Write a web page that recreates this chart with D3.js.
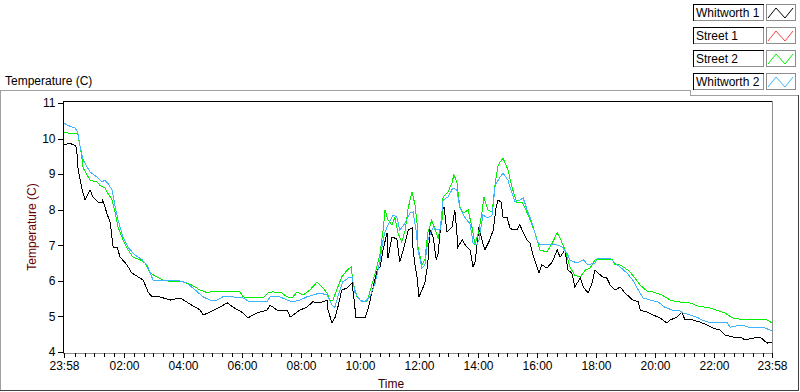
<!DOCTYPE html>
<html>
<head>
<meta charset="utf-8">
<script src="https://cdn.jsdelivr.net/npm/d3@7"></script>
<style>
  body { margin: 0; background: #fff; }
  svg { display: block; font-family: "Liberation Sans", Arial, sans-serif; }
  .axis text { font-size: 12px; fill: #000; }
  .axis line { stroke: #000; shape-rendering: crispEdges; }
  .axis .domain { display: none; }
  .frame { fill: none; shape-rendering: crispEdges; }
  .plot-line { fill: none; stroke-width: 1; shape-rendering: crispEdges; }
</style>
</head>
<body>
<svg id="chart" width="800" height="392"></svg>
<script>
// Series names + colours (legend order)
const seriesNames = ['Whitworth 1', 'Street 1', 'Street 2', 'Whitworth 2'];
const seriesColors = ['#000000', '#ff3c3c', '#00f000', '#3cb4ff'];

// Axis ticks
const yTicks = [4, 5, 6, 7, 8, 9, 10, 11];
const xLabels = ['23:58', '02:00', '04:00', '06:00', '08:00', '10:00', '12:00',
    '14:00', '16:00', '18:00', '20:00', '22:00', '23:58'];

// Minutes after 23:58, and temperature (C)
const w1Min = [0, 12, 24, 26, 28, 33, 37, 43, 53, 59, 69, 77, 79, 87, 94, 100, 108, 114, 128, 138,
    151, 161, 171, 179, 195, 216, 236, 256, 277, 283, 297, 317, 332, 344, 364, 374, 393, 413, 419, 433,
    454, 460, 480, 494, 506, 521, 535, 537, 545, 551, 557, 565, 576, 586, 590, 594, 602, 612, 618, 626,
    637, 643, 649, 657, 659, 667, 677, 683, 690, 700, 708, 710, 714, 718, 722, 728, 734, 740, 744, 751,
    757, 761, 769, 773, 779, 789, 795, 799, 801, 810, 816, 826, 832, 836, 840, 844, 850, 856, 866, 873,
    879, 883, 889, 893, 901, 907, 913, 921, 927, 934, 942, 948, 954, 962, 966, 972, 982, 993, 999, 1003,
    1009, 1019, 1025, 1033, 1039, 1050, 1056, 1066, 1074, 1080, 1086, 1096, 1104, 1111, 1121, 1131, 1141, 1157, 1168, 1172,
    1186, 1198, 1212, 1226, 1233, 1247, 1257, 1263, 1279, 1294, 1308, 1320, 1334, 1344, 1361, 1375, 1385, 1401, 1416, 1430, 1440];
const w1Temp = [9.82, 9.87, 9.79, 9.68, 9.20, 8.83, 8.55, 8.27, 8.55, 8.36, 8.22, 8.19, 8.27, 7.91, 7.63, 6.95, 6.95, 6.67, 6.45, 6.22,
    6.11, 6.02, 5.69, 5.55, 5.55, 5.46, 5.52, 5.35, 5.18, 5.04, 5.12, 5.26, 5.38, 5.26, 5.10, 4.96, 5.10, 5.18, 5.32, 5.18,
    5.18, 4.98, 5.18, 5.26, 5.41, 5.38, 5.46, 5.18, 4.82, 4.96, 5.26, 5.74, 5.80, 5.94, 5.46, 4.96, 4.98, 4.96, 5.18, 5.66,
    6.30, 6.39, 6.87, 7.35, 6.64, 7.23, 7.18, 6.53, 6.87, 7.43, 7.49, 6.87, 6.45, 6.11, 5.55, 5.74, 5.94, 6.50, 7.43, 7.23,
    6.59, 6.78, 7.99, 8.08, 7.37, 7.51, 7.99, 7.35, 6.95, 7.15, 7.01, 6.87, 6.39, 6.53, 7.01, 7.51, 7.15, 6.87, 7.15, 7.43,
    8.08, 8.27, 8.22, 7.79, 7.79, 7.49, 7.43, 7.43, 7.57, 7.37, 7.15, 7.06, 6.73, 6.39, 6.22, 6.45, 6.36, 6.53, 6.73, 6.87,
    6.67, 6.87, 6.30, 6.22, 5.83, 6.08, 5.83, 5.66, 5.94, 6.30, 6.22, 6.11, 6.08, 5.88, 5.74, 5.83, 5.66, 5.46, 5.41, 5.18,
    5.12, 5.04, 4.96, 4.82, 4.90, 4.98, 5.12, 4.90, 4.90, 4.84, 4.76, 4.67, 4.62, 4.48, 4.42, 4.42, 4.34, 4.39, 4.42, 4.25, 4.28];

// Street 1 logged nothing on this day
const s1Min = [];
const s1Temp = [];

const s2Min = [0, 6, 28, 33, 37, 39, 47, 53, 67, 73, 83, 89, 98, 104, 110, 120, 128, 140, 155, 165,
    175, 189, 201, 222, 242, 260, 277, 293, 297, 332, 358, 364, 378, 405, 415, 425, 443, 454, 464, 474,
    486, 500, 515, 525, 535, 541, 547, 557, 565, 576, 584, 588, 596, 606, 616, 622, 633, 643, 649, 653,
    659, 667, 673, 679, 687, 694, 700, 708, 714, 718, 720, 728, 734, 740, 748, 755, 761, 769, 771, 781,
    789, 793, 799, 805, 812, 822, 830, 836, 844, 850, 854, 862, 871, 877, 883, 893, 903, 911, 921, 932,
    938, 948, 958, 968, 982, 993, 1003, 1009, 1019, 1029, 1039, 1050, 1060, 1070, 1080, 1090, 1115, 1121, 1131, 1147,
    1157, 1172, 1186, 1198, 1216, 1233, 1249, 1273, 1290, 1314, 1344, 1359, 1371, 1401, 1430, 1440];
const s2Temp = [10.18, 10.16, 10.13, 9.76, 9.40, 9.17, 8.98, 8.83, 8.78, 8.69, 8.61, 8.47, 8.27, 7.91, 7.51, 7.15, 6.92, 6.67, 6.59, 6.50,
    6.22, 6.11, 6.02, 5.97, 5.97, 5.88, 5.74, 5.66, 5.69, 5.69, 5.69, 5.55, 5.52, 5.52, 5.66, 5.69, 5.66, 5.55, 5.52, 5.69,
    5.60, 5.74, 5.97, 5.83, 5.66, 5.46, 5.46, 5.83, 6.11, 6.30, 6.39, 5.94, 5.55, 5.41, 5.41, 5.69, 6.22, 6.78, 7.43, 7.99,
    7.71, 7.57, 7.79, 7.35, 7.09, 7.43, 8.05, 8.50, 8.13, 7.63, 6.95, 6.45, 6.59, 7.35, 7.71, 7.43, 7.20, 7.71, 8.36, 8.50,
    8.75, 8.98, 8.78, 8.08, 7.91, 7.99, 7.49, 7.01, 7.43, 7.91, 8.36, 7.99, 7.94, 8.75, 9.26, 9.45, 9.12, 8.64, 8.19, 8.19,
    8.05, 7.71, 7.35, 6.87, 6.81, 7.06, 7.35, 7.20, 6.87, 6.39, 6.16, 6.11, 6.30, 6.36, 6.59, 6.61, 6.61, 6.45, 6.45, 6.30,
    6.16, 5.88, 5.71, 5.69, 5.60, 5.46, 5.41, 5.38, 5.29, 5.24, 5.10, 4.96, 4.93, 4.90, 4.90, 4.82];

const w2Min = [0, 6, 22, 28, 33, 39, 47, 53, 67, 77, 83, 89, 98, 104, 110, 120, 130, 144, 159, 169,
    181, 201, 230, 250, 262, 283, 297, 311, 323, 344, 364, 378, 413, 419, 439, 454, 466, 480, 494, 506,
    521, 535, 545, 551, 557, 567, 578, 586, 592, 602, 612, 622, 633, 643, 649, 653, 659, 669, 677, 683,
    694, 704, 710, 716, 720, 728, 734, 740, 751, 759, 765, 771, 781, 791, 799, 805, 816, 826, 832, 840,
    844, 852, 862, 871, 877, 887, 893, 903, 911, 917, 927, 934, 942, 952, 962, 968, 1003, 1013, 1023, 1029,
    1043, 1056, 1066, 1080, 1086, 1111, 1125, 1131, 1145, 1157, 1168, 1178, 1192, 1208, 1222, 1237, 1249, 1259, 1287, 1298,
    1314, 1349, 1355, 1379, 1391, 1422, 1440];
const w2Temp = [10.44, 10.38, 10.30, 10.18, 9.76, 9.40, 9.20, 9.06, 8.92, 8.78, 8.83, 8.75, 8.55, 8.08, 7.71, 7.23, 6.95, 6.73, 6.59, 6.45,
    6.02, 6.02, 6.02, 5.94, 5.80, 5.55, 5.46, 5.46, 5.55, 5.55, 5.52, 5.41, 5.41, 5.55, 5.55, 5.46, 5.41, 5.46, 5.55, 5.60,
    5.66, 5.60, 5.32, 5.26, 5.55, 5.97, 6.08, 6.11, 5.66, 5.46, 5.41, 5.55, 5.94, 6.59, 7.15, 7.37, 7.57, 7.85, 7.79, 7.43,
    7.63, 7.91, 7.94, 7.43, 6.87, 6.36, 6.45, 7.15, 7.51, 7.43, 7.43, 8.27, 8.36, 8.61, 8.55, 8.05, 7.77, 7.60, 7.06, 7.01,
    7.15, 7.85, 7.77, 7.85, 8.69, 8.92, 9.03, 8.83, 8.47, 8.22, 8.27, 8.33, 7.99, 7.63, 7.15, 7.01, 7.01, 6.95, 6.78, 6.59,
    6.50, 6.59, 6.45, 6.50, 6.64, 6.64, 6.45, 6.39, 6.22, 6.02, 5.74, 5.52, 5.46, 5.41, 5.26, 5.18, 5.18, 5.10, 4.98, 4.90,
    4.82, 4.82, 4.70, 4.76, 4.70, 4.70, 4.59];

const seriesMin = [w1Min, s1Min, s2Min, w2Min];
const seriesTemp = [w1Temp, s1Temp, s2Temp, w2Temp];

// "hh:mm" -> minutes after the first sample (23:58)
const timeToMinutes = function(time) {
    const [hour, minute] = time.split(':').map(Number);
    return hour * 60 + minute;
}
const startMinutes = timeToMinutes(xLabels[0]);
const labelOffset = (label, i) => i === xLabels.length - 1 ? 1440
    : (timeToMinutes(label) - startMinutes + 1440) % 1440;

const svg = d3.select('#chart');
const plot = { left: 63, right: 772, top: 101, bottom: 353 };

const xScale = d3.scaleLinear().domain([0, 1440]).range([64, 772]);
const yScale = d3.scaleLinear().domain([4, 11]).range([352, 103]);

// Outer panel borders
const frame = svg.append('g').attr('class', 'frame');
frame.append('path').attr('stroke', '#a0a0a0')
    .attr('d', 'M0.5,391 V90.5 H690.5 V95.5 H798');
frame.append('path').attr('stroke', '#404040')
    .attr('d', 'M798.5,95 V390.5 H0');

// Chart title at top-left
svg.append('text')
    .attr('x', 5).attr('y', 85)
    .style('font-size', '12px')
    .text('Temperature (C)');

// Plot area border: black top/left, grey right/bottom
frame.append('path').attr('stroke', '#000')
    .attr('d', `M${plot.left + 0.5},${plot.bottom} V${plot.top + 0.5} H${plot.right}`);
frame.append('path').attr('stroke', '#8c8c8c')
    .attr('d', `M${plot.right + 0.5},${plot.top} V${plot.bottom + 0.5} H${plot.left}`);

// Y axis
svg.append('g')
    .attr('class', 'axis y-axis')
    .attr('transform', `translate(${plot.left - 0.5},0)`)
    .call(d3.axisLeft(yScale).tickValues(yTicks).tickSize(5).tickPadding(2).tickFormat(d3.format('d')));

// X axis: minor ticks every 20 minutes, major ticks with clock labels
const majorMin = xLabels.map(labelOffset);
const minorMin = d3.range(22, 1440, 20).filter(m => !majorMin.some(v => Math.abs(v - m) < 3));
svg.append('g')
    .attr('class', 'axis x-minor')
    .attr('transform', `translate(0,${plot.bottom - 0.5})`)
    .call(d3.axisBottom(xScale).tickValues(minorMin).tickSize(4).tickFormat(''));
svg.append('g')
    .attr('class', 'axis x-axis')
    .attr('transform', `translate(0,${plot.bottom - 0.5})`)
    .call(d3.axisBottom(xScale).tickValues(majorMin).tickSize(5).tickPadding(4)
        .tickFormat((d, i) => xLabels[i]));

// Axis titles
svg.append('text')
    .attr('transform', 'translate(36,227) rotate(-90)')
    .attr('text-anchor', 'middle')
    .style('font-size', '12px')
    .style('fill', '#6b0000')
    .text('Temperature (C)');
svg.append('text')
    .attr('x', 391).attr('y', 388)
    .attr('text-anchor', 'middle')
    .style('font-size', '12px')
    .style('fill', '#3a0000')
    .text('Time');

// Plots
const line = d3.line()
    .x(d => xScale(d[0]))
    .y(d => yScale(d[1]));
for (let s = 0; s < seriesNames.length; s++) {
    let pts = seriesMin[s].map((m, i) => [m, seriesTemp[s][i]]);
    if (pts.length === 0) continue;
    svg.append('path')
        .attr('class', 'plot-line')
        .attr('stroke', seriesColors[s])
        .attr('d', line(pts));
}

// Legend: name box + swatch box per plot
const legend = svg.append('g').attr('class', 'legend');
for (let i = 0; i < seriesNames.length; i++) {
    let top = 4 + i * 23;
    let g = legend.append('g').attr('transform', `translate(0,${top})`);
    g.append('rect').attr('x', 693.5).attr('y', 0.5).attr('width', 70).attr('height', 16)
        .attr('fill', '#fff').attr('stroke', '#000').style('shape-rendering', 'crispEdges');
    g.append('path').attr('d', 'M763.5,0.5 V16.5 H693.5').attr('fill', 'none')
        .attr('stroke', '#909090').style('shape-rendering', 'crispEdges');
    g.append('text').attr('x', 696).attr('y', 13)
        .style('font-size', '12px').text(seriesNames[i]);
    g.append('rect').attr('x', 766.5).attr('y', 0.5).attr('width', 29).attr('height', 16)
        .attr('fill', '#fff').attr('stroke', '#8c8c8c').style('shape-rendering', 'crispEdges');
    g.append('path').attr('d', 'M768,14 L776,4 L785,14 L793,4')
        .attr('fill', 'none').attr('stroke', seriesColors[i]);
}
</script>
</body>
</html>
